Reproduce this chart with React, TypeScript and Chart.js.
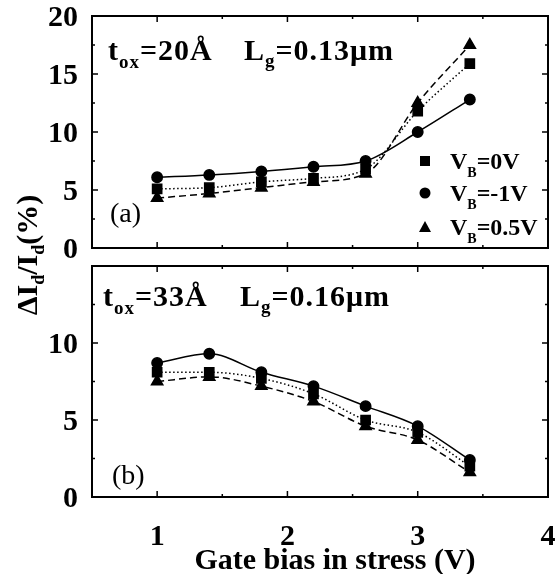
import React, { useEffect, useRef } from 'react';
import { Chart, registerables } from 'chart.js';

Chart.register(...registerables);

// ---------------- data ----------------
const gateBias = [1.0, 1.4, 1.8, 2.2, 2.6, 3.0, 3.4];

// panel (a): tox = 20 Å, Lg = 0.13 µm
const topVB0 = [5.1, 5.2, 5.7, 6.0, 6.8, 11.8, 15.9];
const topVBm1 = [6.1, 6.3, 6.6, 7.0, 7.5, 10.0, 12.8];
const topVB05 = [4.3, 4.7, 5.2, 5.7, 6.4, 12.5, 17.5];

// panel (b): tox = 33 Å, Lg = 0.16 µm
const botVB0 = [8.1, 8.1, 7.7, 6.7, 5.0, 4.2, 2.0];
const botVBm1 = [8.7, 9.3, 8.1, 7.2, 5.9, 4.6, 2.4];
const botVB05 = [7.5, 7.8, 7.2, 6.2, 4.6, 3.7, 1.6];

const seriesBias = ['0V', '-1V', '0.5V'];

const xTickValues = [1, 2, 3, 4];
const xTickLabels = ['1', '2', '3', '4'];
const xMinorValues = [1.5, 2.5, 3.5];
const topYTicks = [0, 5, 10, 15, 20];
const topYTickLabels = ['0', '5', '10', '15', '20'];
const topYMinor = [2.5, 7.5, 12.5, 17.5];
const botYTicks = [0, 5, 10, 15];
const botYTickLabels = ['0', '5', '10', ''];
const botYMinor = [2.5, 7.5, 12.5];

const FF = "'Liberation Serif', 'Times New Roman', serif";

type Seg = { t: string; sub?: boolean };

function drawRich(
  ctx: CanvasRenderingContext2D,
  segs: Seg[],
  x: number,
  y: number,
  size: number,
  subSize: number,
  subOff: number,
  weight = 'bold',
  align: 'left' | 'center' = 'left',
  spacing = 0
) {
  (ctx as any).letterSpacing = spacing + 'px';
  let total = 0;
  const widths = segs.map((s) => {
    ctx.font = `${weight} ${s.sub ? subSize : size}px ${FF}`;
    const w = ctx.measureText(s.t).width;
    total += w;
    return w;
  });
  let cx = align === 'center' ? x - total / 2 : x;
  ctx.textBaseline = 'alphabetic';
  ctx.textAlign = 'left';
  segs.forEach((s, i) => {
    ctx.font = `${weight} ${s.sub ? subSize : size}px ${FF}`;
    ctx.fillText(s.t, cx, s.sub ? y + subOff : y);
    cx += widths[i];
  });
  (ctx as any).letterSpacing = '0px';
}

function makeDatasets(v0: number[], vm1: number[], v05: number[]) {
  const base = {
    borderColor: '#000',
    backgroundColor: '#000',
    pointBorderColor: '#000',
    pointBackgroundColor: '#000',
    borderWidth: 1.5,
    cubicInterpolationMode: 'monotone' as const,
    fill: false,
  };
  return [
    {
      ...base,
      label: 'VB=' + seriesBias[0],
      data: gateBias.map((x, i) => ({ x, y: v0[i] })),
      borderDash: [1.5, 2.5],
      pointStyle: 'rect',
      pointRadius: 6.5,
    },
    {
      ...base,
      label: 'VB=' + seriesBias[1],
      data: gateBias.map((x, i) => ({ x, y: vm1[i] })),
      pointStyle: 'circle',
      pointRadius: 5.2,
    },
    {
      ...base,
      label: 'VB=' + seriesBias[2],
      data: gateBias.map((x, i) => ({ x, y: v05[i] })),
      borderDash: [7, 4],
      pointStyle: 'triangle',
      pointRadius: 6.5,
    },
  ];
}

function makeFramePlugin(
  yTicks: number[],
  yLabels: string[],
  yMinor: number[],
  showXLabels: boolean,
  extra: (c: Chart) => void
) {
  return {
    id: 'frame',
    afterDraw(chart: Chart) {
      const ctx = chart.ctx;
      const { left, right, top, bottom } = chart.chartArea;
      const x = chart.scales.x;
      const y = chart.scales.y;
      ctx.save();
      ctx.strokeStyle = '#000';
      ctx.fillStyle = '#000';
      ctx.lineWidth = 2;
      ctx.strokeRect(left, top, right - left, bottom - top);
      ctx.lineWidth = 1.5;
      const hTick = (v: number, len: number) => {
        const px = x.getPixelForValue(v);
        if (px <= left + 1 || px >= right - 1) return;
        ctx.beginPath();
        ctx.moveTo(px, bottom);
        ctx.lineTo(px, bottom - len);
        ctx.moveTo(px, top);
        ctx.lineTo(px, top + len);
        ctx.stroke();
      };
      const vTick = (v: number, len: number) => {
        const py = y.getPixelForValue(v);
        if (py <= top + 1 || py >= bottom - 1) return;
        ctx.beginPath();
        ctx.moveTo(left, py);
        ctx.lineTo(left + len, py);
        ctx.moveTo(right, py);
        ctx.lineTo(right - len, py);
        ctx.stroke();
      };
      xTickValues.forEach((v) => hTick(v, 6));
      xMinorValues.forEach((v) => hTick(v, 3));
      yTicks.forEach((v) => vTick(v, 6));
      yMinor.forEach((v) => vTick(v, 3));

      // tick labels
      ctx.font = `bold 30px ${FF}`;
      ctx.textBaseline = 'alphabetic';
      ctx.textAlign = 'right';
      yTicks.forEach((v, i) => {
        if (!yLabels[i]) return;
        ctx.fillText(yLabels[i], left - 14, y.getPixelForValue(v) + 10);
      });
      if (showXLabels) {
        ctx.textAlign = 'center';
        xTickValues.forEach((v, i) => {
          ctx.fillText(xTickLabels[i], x.getPixelForValue(v), bottom + 48);
        });
      }
      ctx.textAlign = 'left';
      extra(chart);
      ctx.restore();
    },
  };
}

export default function App() {
  const topRef = useRef<HTMLCanvasElement>(null);
  const botRef = useRef<HTMLCanvasElement>(null);

  useEffect(() => {
    const topExtra = (chart: Chart) => {
      const ctx = chart.ctx;
      drawRich(ctx, [{ t: 't' }, { t: 'ox', sub: true }, { t: '=20Å' }], 108, 60, 30, 19, 8, 'bold', 'left', 1);
      drawRich(ctx, [{ t: 'L' }, { t: 'g', sub: true }, { t: '=0.13μm' }], 244, 60, 30, 19, 7, 'bold', 'left', 1);
      ctx.font = `28px ${FF}`;
      ctx.fillText('(a)', 110, 222);
      // legend
      const mx = 425;
      const rows = [161, 193, 227];
      ctx.fillRect(mx - 5, rows[0] - 5, 10, 10);
      ctx.beginPath();
      ctx.arc(mx, rows[1], 5.5, 0, Math.PI * 2);
      ctx.fill();
      ctx.beginPath();
      ctx.moveTo(mx, rows[2] - 6);
      ctx.lineTo(mx + 6, rows[2] + 5);
      ctx.lineTo(mx - 6, rows[2] + 5);
      ctx.closePath();
      ctx.fill();
      seriesBias.forEach((b, i) => {
        drawRich(ctx, [{ t: 'V' }, { t: 'B', sub: true }, { t: '=' + b }], 450, rows[i] + 8, 24, 14, 8);
      });
    };

    const botExtra = (chart: Chart) => {
      const ctx = chart.ctx;
      drawRich(ctx, [{ t: 't' }, { t: 'ox', sub: true }, { t: '=33Å' }], 103, 306, 30, 19, 8, 'bold', 'left', 1);
      drawRich(ctx, [{ t: 'L' }, { t: 'g', sub: true }, { t: '=0.16μm' }], 240, 306, 30, 19, 7, 'bold', 'left', 1);
      ctx.font = `28px ${FF}`;
      ctx.fillText('(b)', 112, 484);
      // x axis title
      drawRich(ctx, [{ t: 'Gate bias in stress (V)' }], 335, 569, 30, 18, 0, 'bold', 'center');
      // y axis title
      ctx.save();
      ctx.translate(37, 255);
      ctx.rotate(-Math.PI / 2);
      drawRich(
        ctx,
        [{ t: 'ΔI' }, { t: 'd', sub: true }, { t: '/I' }, { t: 'd', sub: true }, { t: '(%)' }],
        0,
        0,
        30,
        18,
        7,
        'bold',
        'center'
      );
      ctx.restore();
    };

    const c1 = new Chart(topRef.current!, {
      type: 'line',
      data: { datasets: makeDatasets(topVB0, topVBm1, topVB05) as any },
      options: {
        responsive: false,
        animation: false,
        events: [],
        layout: { padding: { left: 92, top: 16, right: 9, bottom: 326 } },
        plugins: { legend: { display: false }, tooltip: { enabled: false } },
        scales: {
          x: { type: 'linear', min: 0.5, max: 4, display: false },
          y: { type: 'linear', min: 0, max: 20, display: false },
        },
      },
      plugins: [makeFramePlugin(topYTicks, topYTickLabels, topYMinor, false, topExtra)],
    });

    const c2 = new Chart(botRef.current!, {
      type: 'line',
      data: { datasets: makeDatasets(botVB0, botVBm1, botVB05) as any },
      options: {
        responsive: false,
        animation: false,
        events: [],
        layout: { padding: { left: 92, top: 266, right: 9, bottom: 77 } },
        plugins: { legend: { display: false }, tooltip: { enabled: false } },
        scales: {
          x: { type: 'linear', min: 0.5, max: 4, display: false },
          y: { type: 'linear', min: 0, max: 15, display: false },
        },
      },
      plugins: [makeFramePlugin(botYTicks, botYTickLabels, botYMinor, true, botExtra)],
    });

    return () => {
      c1.destroy();
      c2.destroy();
    };
  }, []);

  return (
    <div style={{ position: 'absolute', left: 0, top: 0, width: 557, height: 574, background: '#fff' }}>
      <canvas ref={topRef} width={557} height={574} style={{ position: 'absolute', left: 0, top: 0 }} />
      <canvas ref={botRef} width={557} height={574} style={{ position: 'absolute', left: 0, top: 0 }} />
    </div>
  );
}
